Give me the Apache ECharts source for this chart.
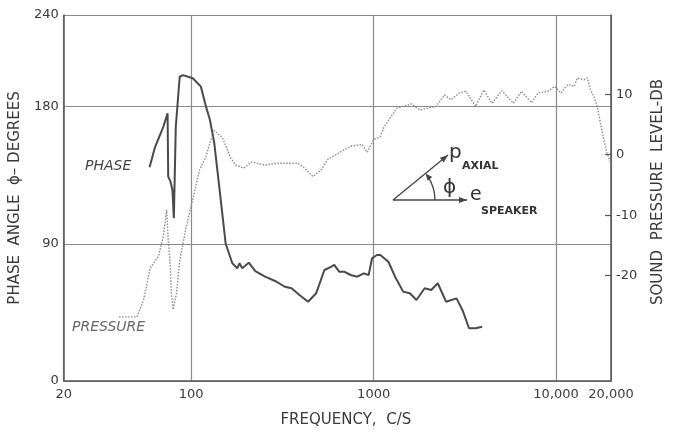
<!DOCTYPE html>
<html><head><meta charset="utf-8">
<script src="https://cdn.jsdelivr.net/npm/echarts@6/dist/echarts.min.js"></script>
<style>html,body{margin:0;padding:0;background:#fff}#c{width:674px;height:433px}</style>
</head><body><div id="c"></div>
<script>
// Tick values
const xTicks = [20, 100, 1000, 10000, 20000];
const phaseTicks = [0, 90, 180, 240];
const dbTicks = [-20, -10, 0, 10];

// Phase curve (frequency c/s, phase degrees)
const phaseFreq = [59.1, 63.4, 70.3, 74.2, 74.8, 77.0, 78.9, 80.3, 82.3, 86.5, 90.2, 102, 113, 120.5, 126.7, 133.8, 142.4, 154.5, 168, 178.8, 184, 190.3, 206.8, 224.5, 254, 288, 326, 355, 392, 437, 484, 537, 584, 608, 647, 689, 748, 813, 883, 939, 980, 1043, 1087, 1205, 1310, 1452, 1579, 1716, 1903, 2068, 2246, 2493, 2845, 3066, 3333, 3621, 3932];
const phaseDeg = [140.1, 153.6, 166.7, 175.5, 134, 130.7, 125.2, 106.7, 166.7, 199.5, 200.6, 198.5, 193, 179.9, 171.1, 155.9, 127.4, 90, 77.2, 73.9, 77.2, 73.9, 77.6, 72, 68.4, 65.6, 61.8, 60.8, 56.4, 52, 57.5, 72.8, 74.9, 76.1, 71.7, 71.7, 69.5, 68.4, 70.6, 69.5, 80.5, 82.6, 82.6, 78.2, 68.4, 58.6, 57.5, 53.1, 60.8, 59.7, 64.1, 52, 54.2, 46.6, 34.6, 34.6, 35.6];

// Pressure curve (frequency c/s, sound pressure level dB)
const pressFreq = [40.2, 50.4, 54.8, 59.6, 66.1, 70.3, 73.3, 74.8, 76.4, 77.9, 79.6, 83, 86.5, 93.9, 102, 111, 120.5, 128.2, 133.8, 148.4, 164.5, 175, 194, 215, 254, 300, 385, 418, 464, 515, 560, 661, 748, 865, 921, 1000, 1087, 1132, 1231, 1338, 1452, 1613, 1789, 1983, 2200, 2442, 2654, 2943, 3198, 3621, 4015, 4453, 5043, 5832, 6467, 7325, 7962, 9020, 9803, 10637, 11568, 12570, 13100, 14240, 14840, 15460, 16130, 16806, 17512, 18256, 19030, 19826];
const pressDb = [-26.8, -26.8, -24, -18.7, -16.8, -13.5, -9.1, -14, -17.4, -22.9, -25.6, -22.9, -17.4, -11.9, -7.4, -2.5, -0.3, 2.5, 4, 2.8, -0.5, -1.7, -2.2, -1.2, -1.7, -1.4, -1.4, -2.2, -3.6, -2.5, -0.8, 0.5, 1.4, 1.7, 0.4, 2.5, 3, 4.4, 6.1, 7.7, 8, 8.4, 7.4, 7.7, 8, 9.9, 9.1, 10.2, 10.5, 8, 10.7, 8.5, 10.6, 8.5, 10.5, 8.6, 10.2, 10.5, 11.3, 10.2, 11.6, 11.3, 12.7, 12.4, 12.7, 10.7, 9.6, 8, 5.2, 2.5, 0.3, -1.2];

const FONT = 'DejaVu Sans';
const INK = '#3a3a3a';
const GRID = '#8a8a8a';

const phaseData = phaseFreq.map((f, i) => [f, phaseDeg[i]]);
const pressData = pressFreq.map((f, i) => [f, pressDb[i]]);

const chart = echarts.init(document.getElementById('c'), null, {renderer: 'canvas'});

function arrowHead(tx, ty, dx, dy, len, hw) {
  const n = Math.hypot(dx, dy); dx /= n; dy /= n;
  const bx = tx - dx * len, by = ty - dy * len;
  return [[tx, ty], [bx - dy * hw, by + dx * hw], [bx + dy * hw, by - dx * hw]];
}

const ox = 393, oy = 200, px = 448, py = 155, ex = 467;
const ang = Math.atan2(oy - py, px - ox);
const r = 42;
const ax = ox + r * Math.cos(ang), ay = oy - r * Math.sin(ang);

chart.setOption({
  animation: false,
  backgroundColor: '#fff',
  textStyle: {fontFamily: FONT, color: INK},
  grid: {left: 59, right: 60, top: 15, bottom: 52, containLabel: false},
  xAxis: {
    type: 'log', logBase: 10, min: 20, max: 20000,
    name: 'FREQUENCY,  C/S', nameLocation: 'middle', nameGap: 32,
    nameTextStyle: {fontFamily: FONT, fontSize: 15, color: INK, padding: [0, 0, 0, 17]},
    axisLine: {show: true, lineStyle: {color: '#555', width: 1.5}},
    axisTick: {show: false},
    axisLabel: {
      fontFamily: FONT, fontSize: 13, color: INK, margin: 7,
      formatter: v => { const n = Math.round(v); return n >= 10000 ? n.toLocaleString('en-US') : String(n); }
    },
    splitLine: {show: true, lineStyle: {color: GRID, width: 1.2}},
    minorTick: {show: false}, minorSplitLine: {show: false}
  },
  yAxis: [{
    type: 'value', min: 0, max: 240, position: 'left',
    name: 'PHASE  ANGLE  ϕ– DEGREES', nameLocation: 'middle', nameGap: 33, nameRotate: 90,
    nameTextStyle: {fontFamily: FONT, fontSize: 15, color: INK},
    axisLine: {show: true, lineStyle: {color: '#555', width: 1.5}},
    axisTick: {show: false, customValues: phaseTicks},
    axisLabel: {customValues: phaseTicks, fontFamily: FONT, fontSize: 13, color: INK, margin: 5},
    splitLine: {show: true, lineStyle: {color: GRID, width: 1.2}}
  }, {
    type: 'value', min: -37.4, max: 23.1, position: 'right',
    name: 'SOUND  PRESSURE  LEVEL-DB', nameLocation: 'middle', nameGap: 40, nameRotate: 90,
    nameTextStyle: {fontFamily: FONT, fontSize: 15, color: INK, padding: [0, 0, 0, 12]},
    axisLine: {show: true, lineStyle: {color: '#555', width: 1.5}},
    axisTick: {show: true, inside: true, length: 6, customValues: dbTicks, lineStyle: {color: '#555', width: 1.2}},
    axisLabel: {customValues: dbTicks, fontFamily: FONT, fontSize: 13, color: INK, margin: 5},
    splitLine: {show: false}
  }],
  series: [{
    name: 'PHASE', type: 'line', xAxisIndex: 0, yAxisIndex: 0,
    data: phaseData, symbol: 'none', smooth: false,
    lineStyle: {color: '#4a4a4a', width: 2}
  }, {
    name: 'PRESSURE', type: 'line', xAxisIndex: 0, yAxisIndex: 1,
    data: pressData, symbol: 'none', smooth: false,
    lineStyle: {color: '#8c8c8c', width: 1.4, type: [1.5, 1.5]}
  }],
  graphic: [
    {type: 'text', left: 85, top: 159, style: {text: 'PHASE', font: 'italic 14px "DejaVu Sans"', fill: '#444'}},
    {type: 'text', left: 72, top: 320, style: {text: 'PRESSURE', font: 'italic 14px "DejaVu Sans"', fill: '#666'}},
    // inset vector diagram
    {type: 'line', shape: {x1: ox, y1: oy, x2: px, y2: py}, style: {stroke: '#444', lineWidth: 1.3}},
    {type: 'polygon', shape: {points: arrowHead(px, py, px - ox, py - oy, 8, 3)}, style: {fill: '#444'}},
    {type: 'line', shape: {x1: ox, y1: oy, x2: ex, y2: oy}, style: {stroke: '#444', lineWidth: 1.3}},
    {type: 'polygon', shape: {points: arrowHead(ex, oy, 1, 0, 8, 3)}, style: {fill: '#444'}},
    {type: 'arc', shape: {cx: ox, cy: oy, r: r, startAngle: -ang + 0.05, endAngle: 0, clockwise: true}, style: {stroke: '#444', lineWidth: 1.3, fill: null}},
    {type: 'polygon', shape: {points: arrowHead(ax, ay, -Math.sin(ang), -Math.cos(ang), 7, 3)}, style: {fill: '#444'}},
    {type: 'text', left: 449, top: 143, style: {text: 'p', font: '20px "DejaVu Sans"', fill: '#333'}},
    {type: 'text', left: 462, top: 161, style: {text: 'AXIAL', font: 'bold 11px "DejaVu Sans"', fill: '#333'}},
    {type: 'text', left: 443, top: 178, style: {text: 'ϕ', font: '20px "DejaVu Sans"', fill: '#333'}},
    {type: 'text', left: 470, top: 186, style: {text: 'e', font: '19px "DejaVu Sans"', fill: '#333'}},
    {type: 'text', left: 481, top: 206, style: {text: 'SPEAKER', font: 'bold 11px "DejaVu Sans"', fill: '#333'}}
  ]
});
</script></body></html>
